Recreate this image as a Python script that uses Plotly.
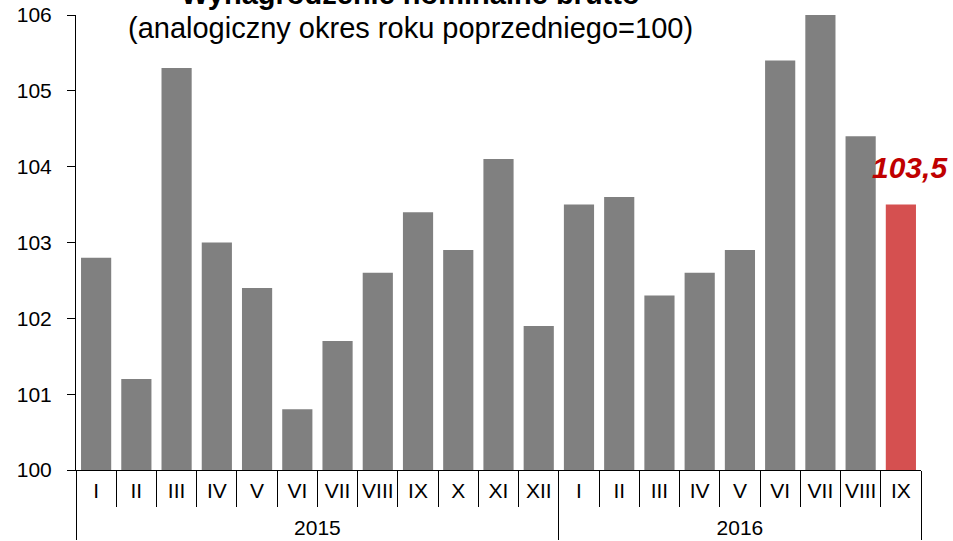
import plotly.graph_objects as go

# dane: wynagrodzenie nominalne brutto (analogiczny okres roku poprzedniego=100)
years = ["2015"] * 12 + ["2016"] * 9
months = ["I", "II", "III", "IV", "V", "VI", "VII", "VIII", "IX", "X", "XI", "XII",
          "I", "II", "III", "IV", "V", "VI", "VII", "VIII", "IX"]
values = [102.8, 101.2, 105.3, 103.0, 102.4, 100.8, 101.7, 102.6, 103.4, 102.9, 104.1, 101.9,
          103.5, 103.6, 102.3, 102.6, 102.9, 105.4, 106.0, 104.4, 103.5]
last_label = "103,5"

GREY = "#808080"
RED = "#D55050"
FONT = "Arial, Liberation Sans, sans-serif"

colors = [GREY] * (len(values) - 1) + [RED]
# spacje o większej czcionce (po obu stronach) odsuwają wiersz lat niżej
pad = '<span style="font-size:33px">&nbsp;</span>'
month_labels = [pad + m + pad for m in months]

fig = go.Figure(go.Bar(
    x=[years, month_labels], y=values,
    marker=dict(color=colors, line=dict(width=0)),
))

fig.update_layout(
    width=953, height=541,
    margin=dict(l=76, r=32, t=15, b=71),
    paper_bgcolor="white", plot_bgcolor="white",
    bargap=0.25, showlegend=False,
    font=dict(family=FONT, size=21, color="black"),
)

fig.update_yaxes(
    range=[100, 106], dtick=1, showgrid=False, zeroline=False,
    showline=True, linecolor="black", linewidth=1, automargin=False,
    ticks="outside", ticklen=8, tickcolor="black",
    tickfont=dict(size=21), ticklabelstandoff=11,
)
fig.update_xaxes(
    type="multicategory", showgrid=False, automargin=False, tickangle=0,
    showline=True, linecolor="black", linewidth=1,
    ticks="outside", tickson="boundaries", ticklen=36, tickcolor="black",
    showdividers=True, dividercolor="black", dividerwidth=1,
    tickfont=dict(size=21), ticklabelstandoff=2,
)

# tytuł (ucięty u góry jak w oryginale)
fig.add_annotation(
    xref="paper", yref="paper", x=(410 - 76) / 845, y=(470 + 6) / 455,
    text="<b>Wynagrodzenie nominalne brutto</b>", showarrow=False,
    font=dict(size=29, family=FONT), xanchor="center", yanchor="middle",
)
fig.add_annotation(
    xref="paper", yref="paper", x=(410 - 76) / 845, y=(470 - 28) / 455,
    text="(analogiczny okres roku poprzedniego=100)", showarrow=False,
    font=dict(size=29, family=FONT), xanchor="center", yanchor="middle",
)

# etykieta ostatniej wartości
fig.add_annotation(
    xref="paper", yref="y", x=(910 - 76) / 845, y=values[-1],
    text=f"<b><i>{last_label}</i></b>", showarrow=False, yshift=37,
    font=dict(size=30, color="#C00000", family=FONT),
    xanchor="center", yanchor="middle",
)

# bez domyślnego marginesu strony, żeby wykres zajmował całe okno
fig.write_html("out.html", config={"displayModeBar": False},
               post_script="document.body.style.margin='0';")
